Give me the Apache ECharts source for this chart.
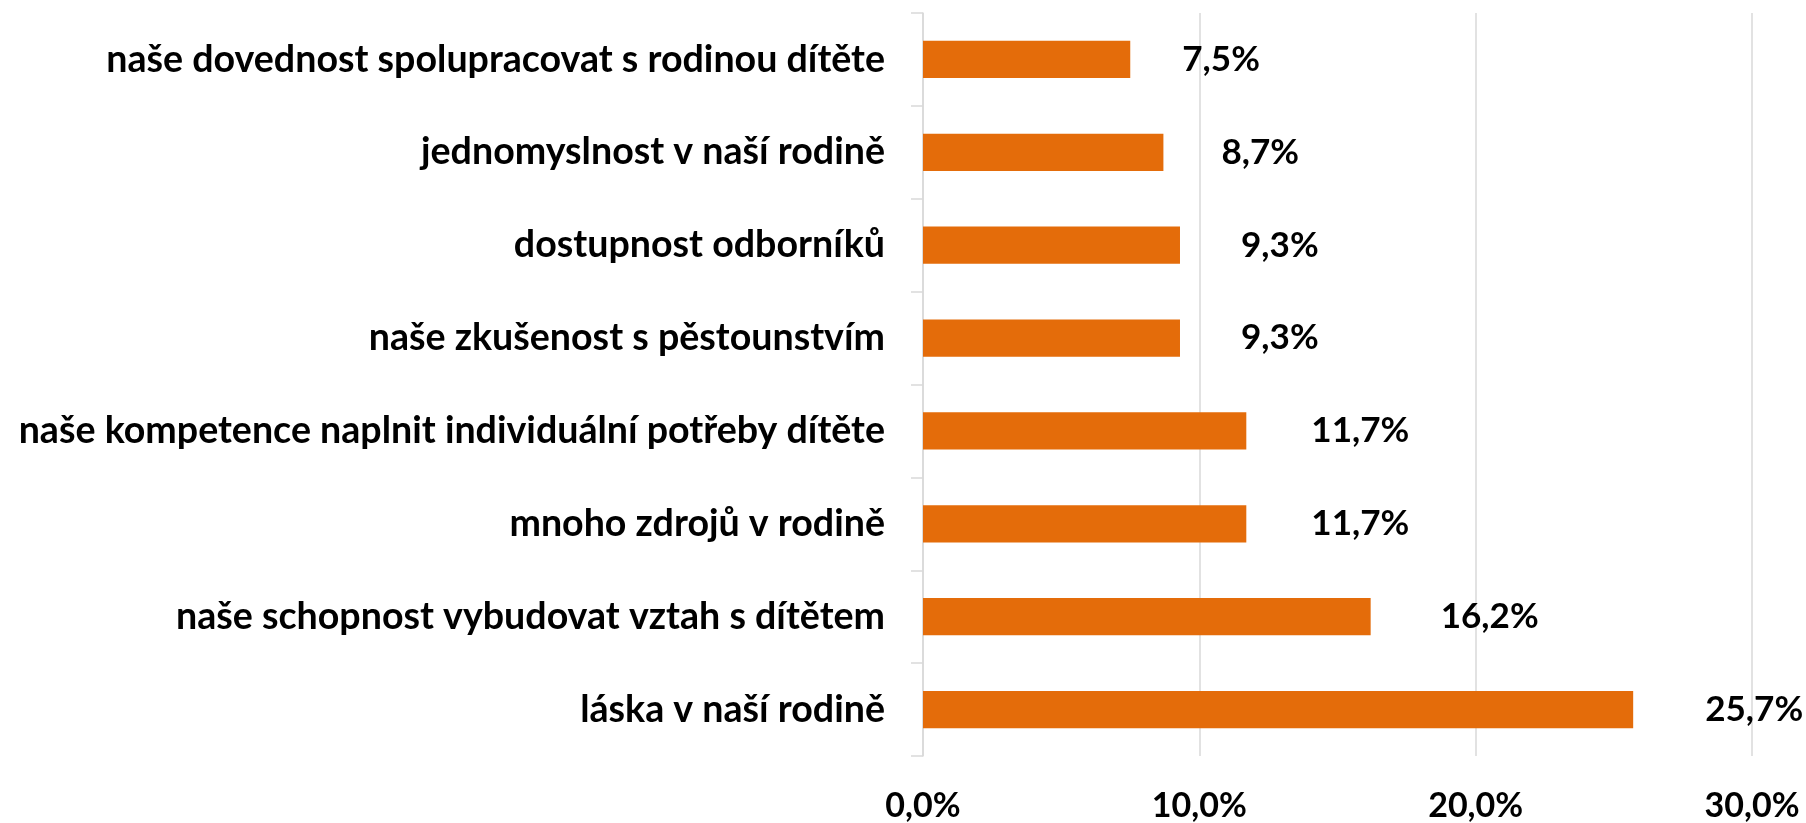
<!DOCTYPE html>
<html>
<head>
<meta charset="utf-8">
<script src="https://cdn.jsdelivr.net/npm/echarts@6/dist/echarts.min.js"></script>
<style>
html,body{margin:0;padding:0;background:#fff;}
#chart{width:1806px;height:823px;}
</style>
</head>
<body>
<div id="chart"></div>
<script>
const categories = [
  'naše dovednost spolupracovat s rodinou dítěte',
  'jednomyslnost v naší rodině',
  'dostupnost odborníků',
  'naše zkušenost s pěstounstvím',
  'naše kompetence naplnit individuální potřeby dítěte',
  'mnoho zdrojů v rodině',
  'naše schopnost vybudovat vztah s dítětem',
  'láska v naší rodině'
];
const values = [7.5, 8.7, 9.3, 9.3, 11.7, 11.7, 16.2, 25.7];
const xTicks = [0, 10, 20, 30];
const labelGaps = [52, 58, 61, 61, 65, 65, 70, 72];

const FONT = 'Lato, "Open Sans", sans-serif';
const fmt = v => Number(v).toFixed(1).replace('.', ',') + '%';

// pick font sizes so that text widths match the reference picture
const ctx = document.createElement('canvas').getContext('2d');
function sizeFor(text, targetWidth) {
  ctx.font = 'bold 100px ' + FONT;
  return Math.round(100 * targetWidth / ctx.measureText(text).width * 10) / 10;
}
const catSize = sizeFor(categories[0], 779);
const valSize = sizeFor('25,7%', 98);
const tickSize = sizeFor('30,0%', 95);

const chart = echarts.init(document.getElementById('chart'), null, {renderer: 'canvas'});
chart.setOption({
  backgroundColor: '#ffffff',
  animation: false,
  grid: {left: 923, right: 54, top: 13, bottom: 67, containLabel: false, outerBoundsMode: 'none'},
  xAxis: {
    type: 'value',
    min: xTicks[0],
    max: xTicks[xTicks.length - 1],
    interval: xTicks[1] - xTicks[0],
    axisLine: {show: false},
    axisTick: {show: false},
    splitLine: {show: true, lineStyle: {color: '#d9d9d9', width: 1.5}},
    axisLabel: {
      formatter: fmt,
      fontFamily: FONT,
      fontSize: tickSize,
      fontWeight: 'bold',
      color: '#000',
      margin: 33
    }
  },
  yAxis: {
    type: 'category',
    inverse: true,
    data: categories,
    axisLine: {show: true, lineStyle: {color: '#d9d9d9', width: 1.5}},
    axisTick: {show: true, length: 12, lineStyle: {color: '#d9d9d9', width: 1.5}},
    axisLabel: {
      fontFamily: FONT,
      fontSize: catSize,
      fontWeight: 'bold',
      color: '#000',
      margin: 38
    }
  },
  series: [{
    type: 'bar',
    barWidth: '40%',
    itemStyle: {color: '#E46C0A'},
    data: values.map((v, i) => ({value: v, label: {distance: labelGaps[i]}})),
    label: {
      show: true,
      position: 'right',
      formatter: p => fmt(p.value),
      fontFamily: FONT,
      fontSize: valSize,
      fontWeight: 'bold',
      color: '#000'
    }
  }]
});
</script>
</body>
</html>
